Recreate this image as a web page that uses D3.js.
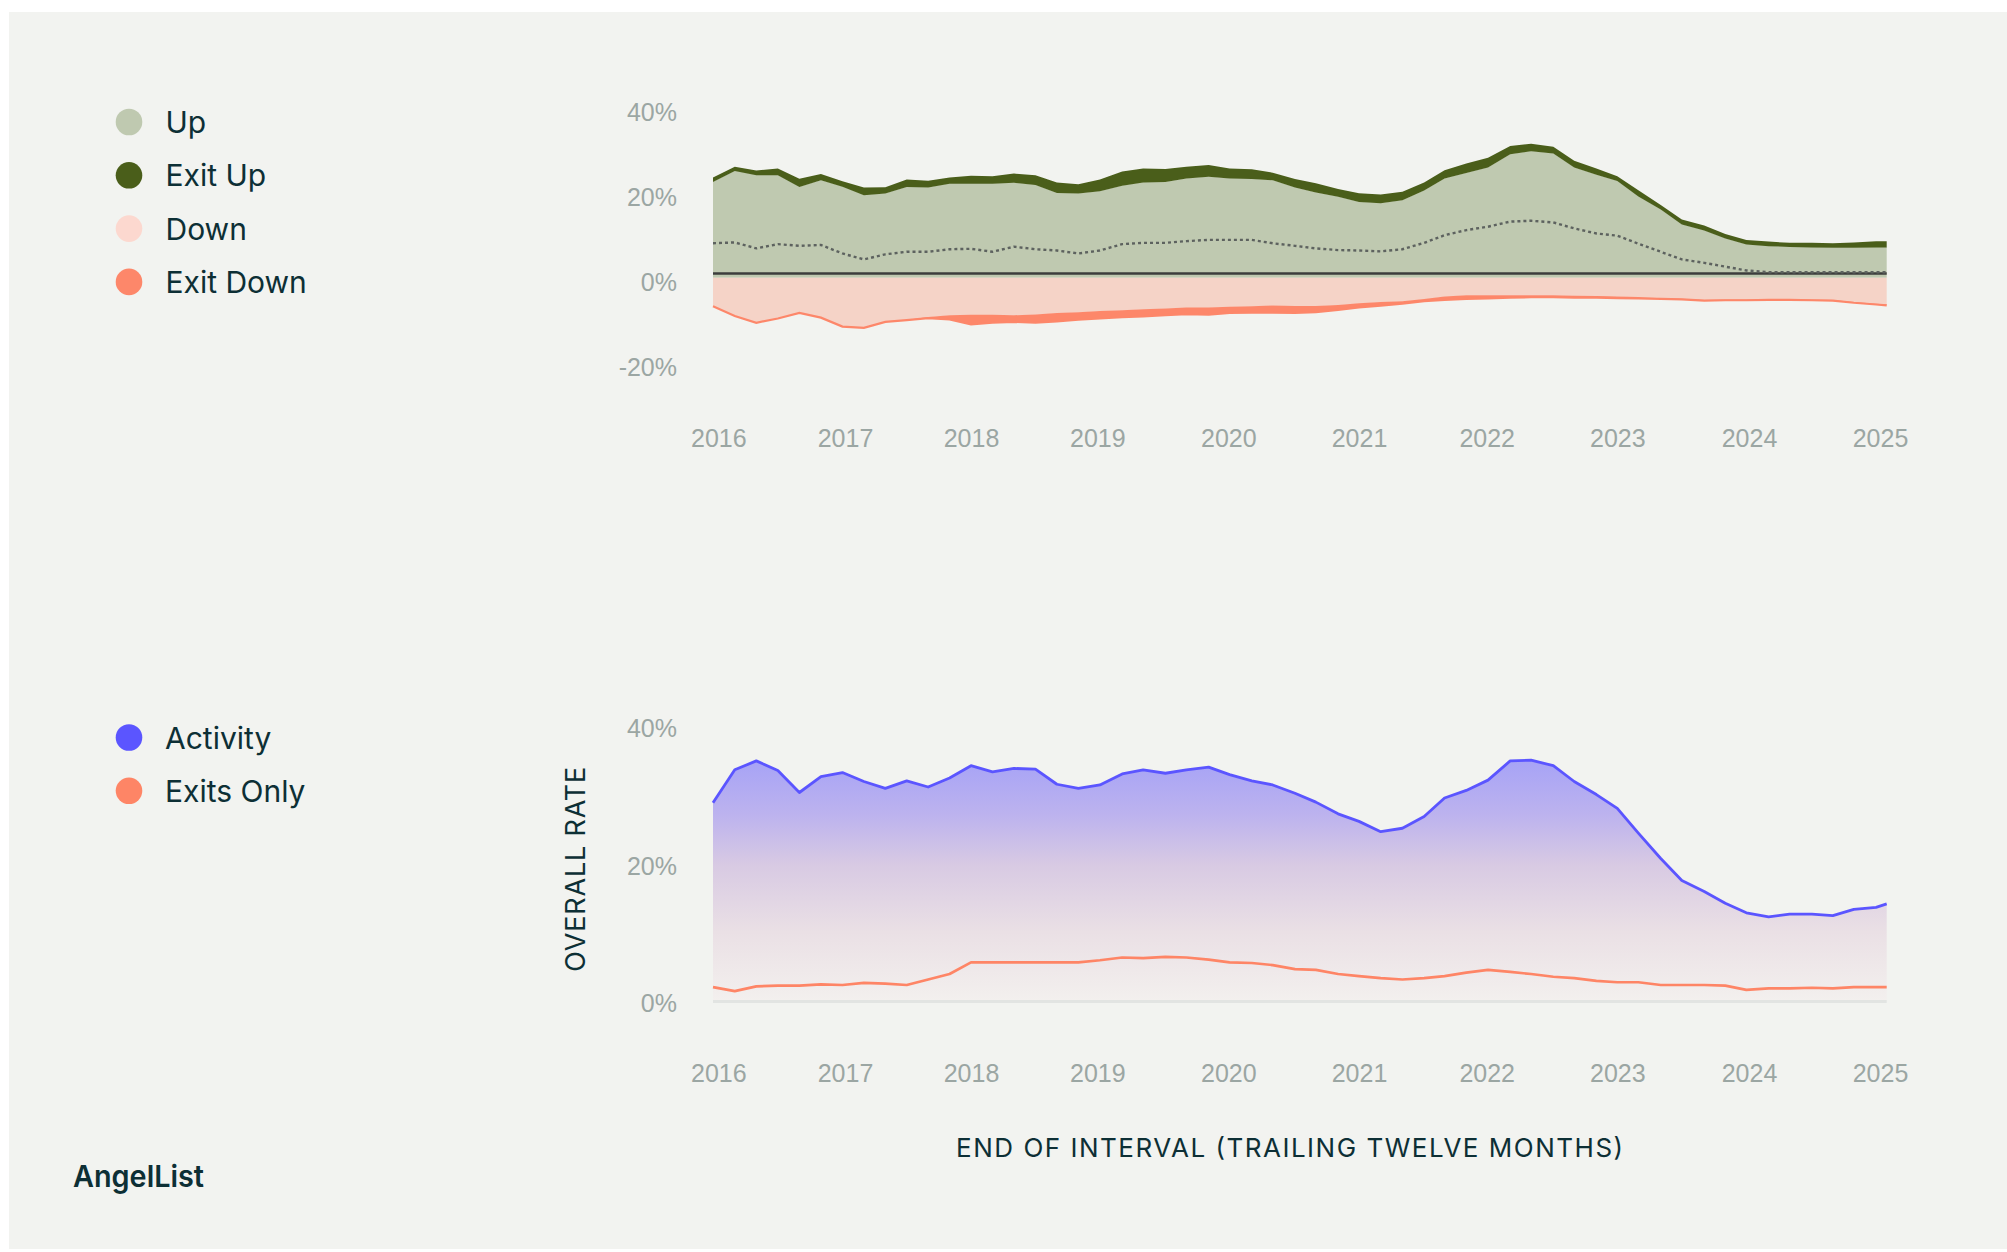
<!DOCTYPE html>
<html><head><meta charset="utf-8">
<script src="https://cdn.jsdelivr.net/npm/d3@7"></script>
<style>
html,body{margin:0;padding:0;background:#fff;}
svg{display:block;}
</style></head><body>
<svg id="chart" width="2007" height="1252"></svg>
<script>
// ---------- DATA ----------
const years = [2015.96, 2016.13, 2016.30, 2016.47, 2016.64, 2016.81, 2016.98, 2017.15, 2017.32, 2017.49,
  2017.66, 2017.83, 2018.00, 2018.17, 2018.34, 2018.51, 2018.68, 2018.85, 2019.02, 2019.19,
  2019.35, 2019.52, 2019.68, 2019.85, 2020.01, 2020.18, 2020.34, 2020.51, 2020.67, 2020.84,
  2021.00, 2021.17, 2021.34, 2021.51, 2021.67, 2021.84, 2022.01, 2022.18, 2022.34, 2022.51,
  2022.67, 2022.84, 2023.00, 2023.16, 2023.33, 2023.49, 2023.66, 2023.82, 2023.98, 2024.15,
  2024.31, 2024.48, 2024.64, 2024.80, 2024.97, 2025.05];

const upRate = [22.6, 25.2, 24.2, 24.2, 21.4, 23.0, 21.5, 19.5, 19.9, 21.4,
  21.3, 22.2, 22.2, 22.2, 22.4, 21.9, 20.0, 19.9, 20.4, 21.7,
  22.5, 22.6, 23.4, 23.8, 23.4, 23.3, 23.0, 21.3, 20.1, 19.1,
  17.9, 17.6, 18.3, 20.6, 23.4, 24.7, 26.0, 29.1, 29.8, 29.3,
  26.0, 24.3, 22.8, 19.2, 16.1, 12.6, 11.2, 9.3, 7.9, 7.5,
  7.3, 7.2, 7.1, 7.1, 7.2, 7.2];

const exitUpRate = [1.0, 0.9, 1.0, 1.5, 1.9, 1.4, 1.2, 1.7, 1.4, 1.7,
  1.5, 1.4, 1.8, 1.7, 2.1, 2.2, 2.4, 2.1, 2.7, 3.3,
  3.2, 3.0, 2.7, 2.7, 2.3, 2.2, 1.7, 1.9, 2.1, 1.8,
  2.0, 2.0, 1.9, 1.8, 1.9, 2.2, 2.2, 1.9, 1.7, 1.5,
  1.5, 1.4, 1.1, 1.4, 1.0, 1.1, 1.1, 1.0, 1.0, 1.0,
  0.9, 1.0, 1.0, 1.2, 1.4, 1.4];

const netRate = [8.1, 8.3, 6.9, 7.9, 7.5, 7.7, 5.7, 4.3, 5.5, 6.1,
  6.1, 6.7, 6.8, 6.1, 7.3, 6.7, 6.4, 5.7, 6.4, 7.9,
  8.2, 8.2, 8.6, 8.9, 8.9, 8.9, 8.1, 7.5, 6.9, 6.5,
  6.4, 6.2, 6.7, 8.2, 10.0, 11.2, 12.0, 13.2, 13.4, 13.0,
  11.6, 10.4, 9.9, 8.0, 6.1, 4.3, 3.5, 2.6, 1.7, 1.3,
  1.3, 1.3, 1.3, 1.3, 1.3, 1.3];

const downRate = [-6.7, -9.0, -10.6, -9.6, -8.3, -9.4, -11.5, -11.8, -10.4, -10.0,
  -9.3, -8.9, -8.8, -8.8, -8.9, -8.7, -8.4, -8.2, -7.9, -7.7,
  -7.5, -7.3, -7.1, -7.1, -6.9, -6.8, -6.6, -6.7, -6.7, -6.5,
  -6.1, -5.8, -5.6, -5.1, -4.5, -4.2, -4.2, -4.2, -4.2, -4.2,
  -4.3, -4.4, -4.5, -4.6, -4.9, -5.0, -5.3, -5.2, -5.2, -5.1,
  -5.1, -5.2, -5.3, -5.8, -6.2, -6.4];

const exitDownRate = [0, 0, 0, 0, 0, 0, 0, 0, 0, 0,
  -0.2, -0.9, -2.2, -1.8, -1.5, -1.9, -1.9, -1.7, -1.7, -1.6,
  -1.6, -1.5, -1.5, -1.6, -1.4, -1.4, -1.6, -1.6, -1.4, -1.1,
  -0.9, -0.8, -0.5, -0.4, -0.7, -0.8, -0.7, -0.5, -0.4, -0.4,
  -0.4, -0.3, -0.3, -0.3, -0.1, -0.1, -0.1, -0.1, -0.1, -0.1,
  -0.1, -0.1, -0.1, -0.1, -0.1, -0.1];

const activityRate = [28.9, 33.7, 35.0, 33.6, 30.4, 32.7, 33.3, 32.0, 31.0, 32.1,
  31.2, 32.5, 34.3, 33.4, 33.9, 33.8, 31.6, 31.0, 31.5, 33.1,
  33.7, 33.2, 33.7, 34.1, 33.0, 32.1, 31.5, 30.3, 29.0, 27.3,
  26.2, 24.7, 25.2, 26.9, 29.6, 30.7, 32.2, 35.0, 35.1, 34.3,
  32.0, 30.1, 28.1, 24.5, 20.8, 17.6, 16.0, 14.3, 12.9, 12.3,
  12.7, 12.7, 12.5, 13.4, 13.7, 14.2];

const exitsOnlyRate = [2.1, 1.5, 2.2, 2.3, 2.3, 2.5, 2.4, 2.7, 2.6, 2.4,
  3.2, 4.0, 5.7, 5.7, 5.7, 5.7, 5.7, 5.7, 6.0, 6.4,
  6.3, 6.5, 6.4, 6.1, 5.7, 5.6, 5.3, 4.7, 4.6, 4.0,
  3.7, 3.4, 3.2, 3.4, 3.7, 4.2, 4.6, 4.3, 4.0, 3.6,
  3.4, 3.0, 2.8, 2.8, 2.4, 2.4, 2.4, 2.3, 1.7, 1.9,
  1.9, 2.0, 1.9, 2.1, 2.1, 2.1];

const referenceLevel = 1.0;
const yearTicks = [2016, 2017, 2018, 2019, 2020, 2021, 2022, 2023, 2024, 2025];
const topTicks = [-20, 0, 20, 40];
const bottomTicks = [0, 20, 40];
const legendTop = ["Up", "Exit Up", "Down", "Exit Down"];
const legendBottom = ["Activity", "Exits Only"];
const yTitle = "OVERALL RATE";
const xTitle = "END OF INTERVAL (TRAILING TWELVE MONTHS)";
const brand = "AngelList";

// ---------- STYLE ----------
const C = {
  bg: "#f2f3f0", up: "#bfc9b0", exitUp: "#4a5e1a", down: "#f5d3c7", downLegend: "#fcd8cf",
  exitDown: "#fd876a", ref: "#3c3d3c", net: "#5d625f", activity: "#5b55ff", exits: "#fe8566",
  tick: "#9ba6a3", text: "#0d2f35", base: "#e2e4e2"
};
const tickFont = "'Liberation Sans', Arial, sans-serif";
const textFont = "Inter, 'Noto Sans', sans-serif";

const svg = d3.select("#chart");
svg.append("rect").attr("width", 2007).attr("height", 1252).attr("fill", "#ffffff");
svg.append("rect").attr("x", 9).attr("y", 12).attr("width", 1998).attr("height", 1237).attr("fill", C.bg);

const idx = d3.range(years.length);
const last = years.length - 1;
const x = d3.scaleLinear()
  .domain([years[0], ...yearTicks, years[last]])
  .range([713, 718.3, 845, 971, 1097.3, 1228.3, 1359, 1486.7, 1617.3, 1749, 1880, 1886.7]);

// ---------- TOP CHART ----------
const yT = d3.scaleLinear().domain([-20, 40]).range([362.7, 107.7]);
const gT = svg.append("g");
gT.append("path").datum(idx).attr("fill", C.up)
  .attr("d", d3.area().x(i => x(years[i])).y0(yT(0)).y1(i => yT(upRate[i])));
gT.append("path").datum(idx).attr("fill", C.exitUp)
  .attr("d", d3.area().x(i => x(years[i])).y0(i => yT(upRate[i]) + 0.3).y1(i => yT(upRate[i] + exitUpRate[i])));
gT.append("path").datum(idx).attr("fill", C.down)
  .attr("d", d3.area().x(i => x(years[i])).y0(yT(0)).y1(i => yT(downRate[i])));
gT.append("path").datum(idx).attr("fill", C.exitDown)
  .attr("d", d3.area().x(i => x(years[i])).y0(i => yT(downRate[i]) - 0.3).y1(i => yT(downRate[i] + exitDownRate[i])));
gT.append("path").datum(idx).attr("fill", "none").attr("stroke", C.exitDown).attr("stroke-width", 2.2)
  .attr("d", d3.line().x(i => x(years[i])).y(i => yT(downRate[i] + exitDownRate[i])));
gT.append("line")
  .attr("x1", x(years[0])).attr("x2", x(years[last]))
  .attr("y1", yT(referenceLevel)).attr("y2", yT(referenceLevel))
  .attr("stroke", C.ref).attr("stroke-width", 2.6);
gT.append("path").datum(idx).attr("fill", "none").attr("stroke", C.net).attr("stroke-width", 2.4)
  .attr("stroke-dasharray", "3,3")
  .attr("d", d3.line().x(i => x(years[i])).y(i => yT(netRate[i])));

function styleAxis(g) {
  g.select(".domain").remove();
  g.attr("font-family", tickFont).attr("font-size", 25);
  g.selectAll("text").attr("fill", C.tick);
}
svg.append("g").attr("transform", "translate(677,5)")
  .call(d3.axisLeft(yT).tickValues(topTicks).tickSize(0).tickPadding(0).tickFormat(d => d + "%"))
  .call(styleAxis);
svg.append("g").attr("transform", "translate(0,429.5)")
  .call(d3.axisBottom(x).tickValues(yearTicks).tickSize(0).tickPadding(0).tickFormat(d3.format("d")))
  .call(styleAxis);

// ---------- BOTTOM CHART ----------
const yB = d3.scaleLinear().domain([0, 40]).range([1001.5, 726.5]);
const defs = svg.append("defs");
const grad = defs.append("linearGradient").attr("id", "actGrad")
  .attr("gradientUnits", "userSpaceOnUse").attr("x1", 0).attr("x2", 0)
  .attr("y1", yB(36)).attr("y2", yB(0));
[[0, "#a4a1f7"], [0.25, "#bdb3ee"], [0.45, "#d8cae3"], [0.72, "#eae0e5"], [1, "#f3f0ee"]]
  .forEach(([o, c]) => grad.append("stop").attr("offset", o).attr("stop-color", c));

const gB = svg.append("g");
gB.append("path").datum(idx).attr("fill", "url(#actGrad)")
  .attr("d", d3.area().x(i => x(years[i])).y0(yB(0)).y1(i => yB(activityRate[i])));
gB.append("line")
  .attr("x1", x(years[0])).attr("x2", x(years[last]))
  .attr("y1", yB(0)).attr("y2", yB(0))
  .attr("stroke", C.base).attr("stroke-width", 3);
gB.append("path").datum(idx).attr("fill", "none").attr("stroke", C.exits).attr("stroke-width", 2.7)
  .attr("stroke-linejoin", "round")
  .attr("d", d3.line().x(i => x(years[i])).y(i => yB(exitsOnlyRate[i])));
gB.append("path").datum(idx).attr("fill", "none").attr("stroke", C.activity).attr("stroke-width", 2.8)
  .attr("stroke-linejoin", "round")
  .attr("d", d3.line().x(i => x(years[i])).y(i => yB(activityRate[i])));

svg.append("g").attr("transform", "translate(677,2.2)")
  .call(d3.axisLeft(yB).tickValues(bottomTicks).tickSize(0).tickPadding(0).tickFormat(d => d + "%"))
  .call(styleAxis);
svg.append("g").attr("transform", "translate(0,1064.5)")
  .call(d3.axisBottom(x).tickValues(yearTicks).tickSize(0).tickPadding(0).tickFormat(d3.format("d")))
  .call(styleAxis);

// titles
svg.append("text")
  .attr("transform", "translate(575.8,869.2) rotate(-90)")
  .attr("text-anchor", "middle").attr("dominant-baseline", "central")
  .attr("font-family", textFont).attr("font-size", 27).attr("fill", C.text)
  .attr("textLength", 205).attr("lengthAdjust", "spacing")
  .text(yTitle);
svg.append("text")
  .attr("x", 1289.6).attr("y", 1147)
  .attr("text-anchor", "middle").attr("dominant-baseline", "central")
  .attr("font-family", textFont).attr("font-size", 26).attr("fill", C.text)
  .attr("textLength", 667).attr("lengthAdjust", "spacing")
  .text(xTitle);

// legends
const topColors = [C.up, C.exitUp, C.downLegend, C.exitDown];
const gL1 = svg.append("g");
legendTop.forEach((name, i) => {
  const cy = 122 + i * 53.3;
  gL1.append("circle").attr("cx", 129).attr("cy", cy).attr("r", 13.3).attr("fill", topColors[i]);
  gL1.append("text").attr("x", 165.5).attr("y", cy).attr("dominant-baseline", "central")
    .attr("font-family", textFont).attr("font-size", 30).attr("fill", C.text).text(name);
});
const botColors = [C.activity, C.exits];
const gL2 = svg.append("g");
legendBottom.forEach((name, i) => {
  const cy = 737.5 + i * 53.3;
  gL2.append("circle").attr("cx", 129).attr("cy", cy).attr("r", 13.3).attr("fill", botColors[i]);
  gL2.append("text").attr("x", 165).attr("y", cy).attr("dominant-baseline", "central")
    .attr("font-family", textFont).attr("font-size", 30).attr("fill", C.text).text(name);
});

svg.append("text").attr("x", 73).attr("y", 1187)
  .attr("font-family", textFont).attr("font-weight", 600).attr("font-size", 30)
  .attr("fill", C.text).attr("textLength", 131).attr("lengthAdjust", "spacingAndGlyphs")
  .text(brand);
</script>
</body></html>
